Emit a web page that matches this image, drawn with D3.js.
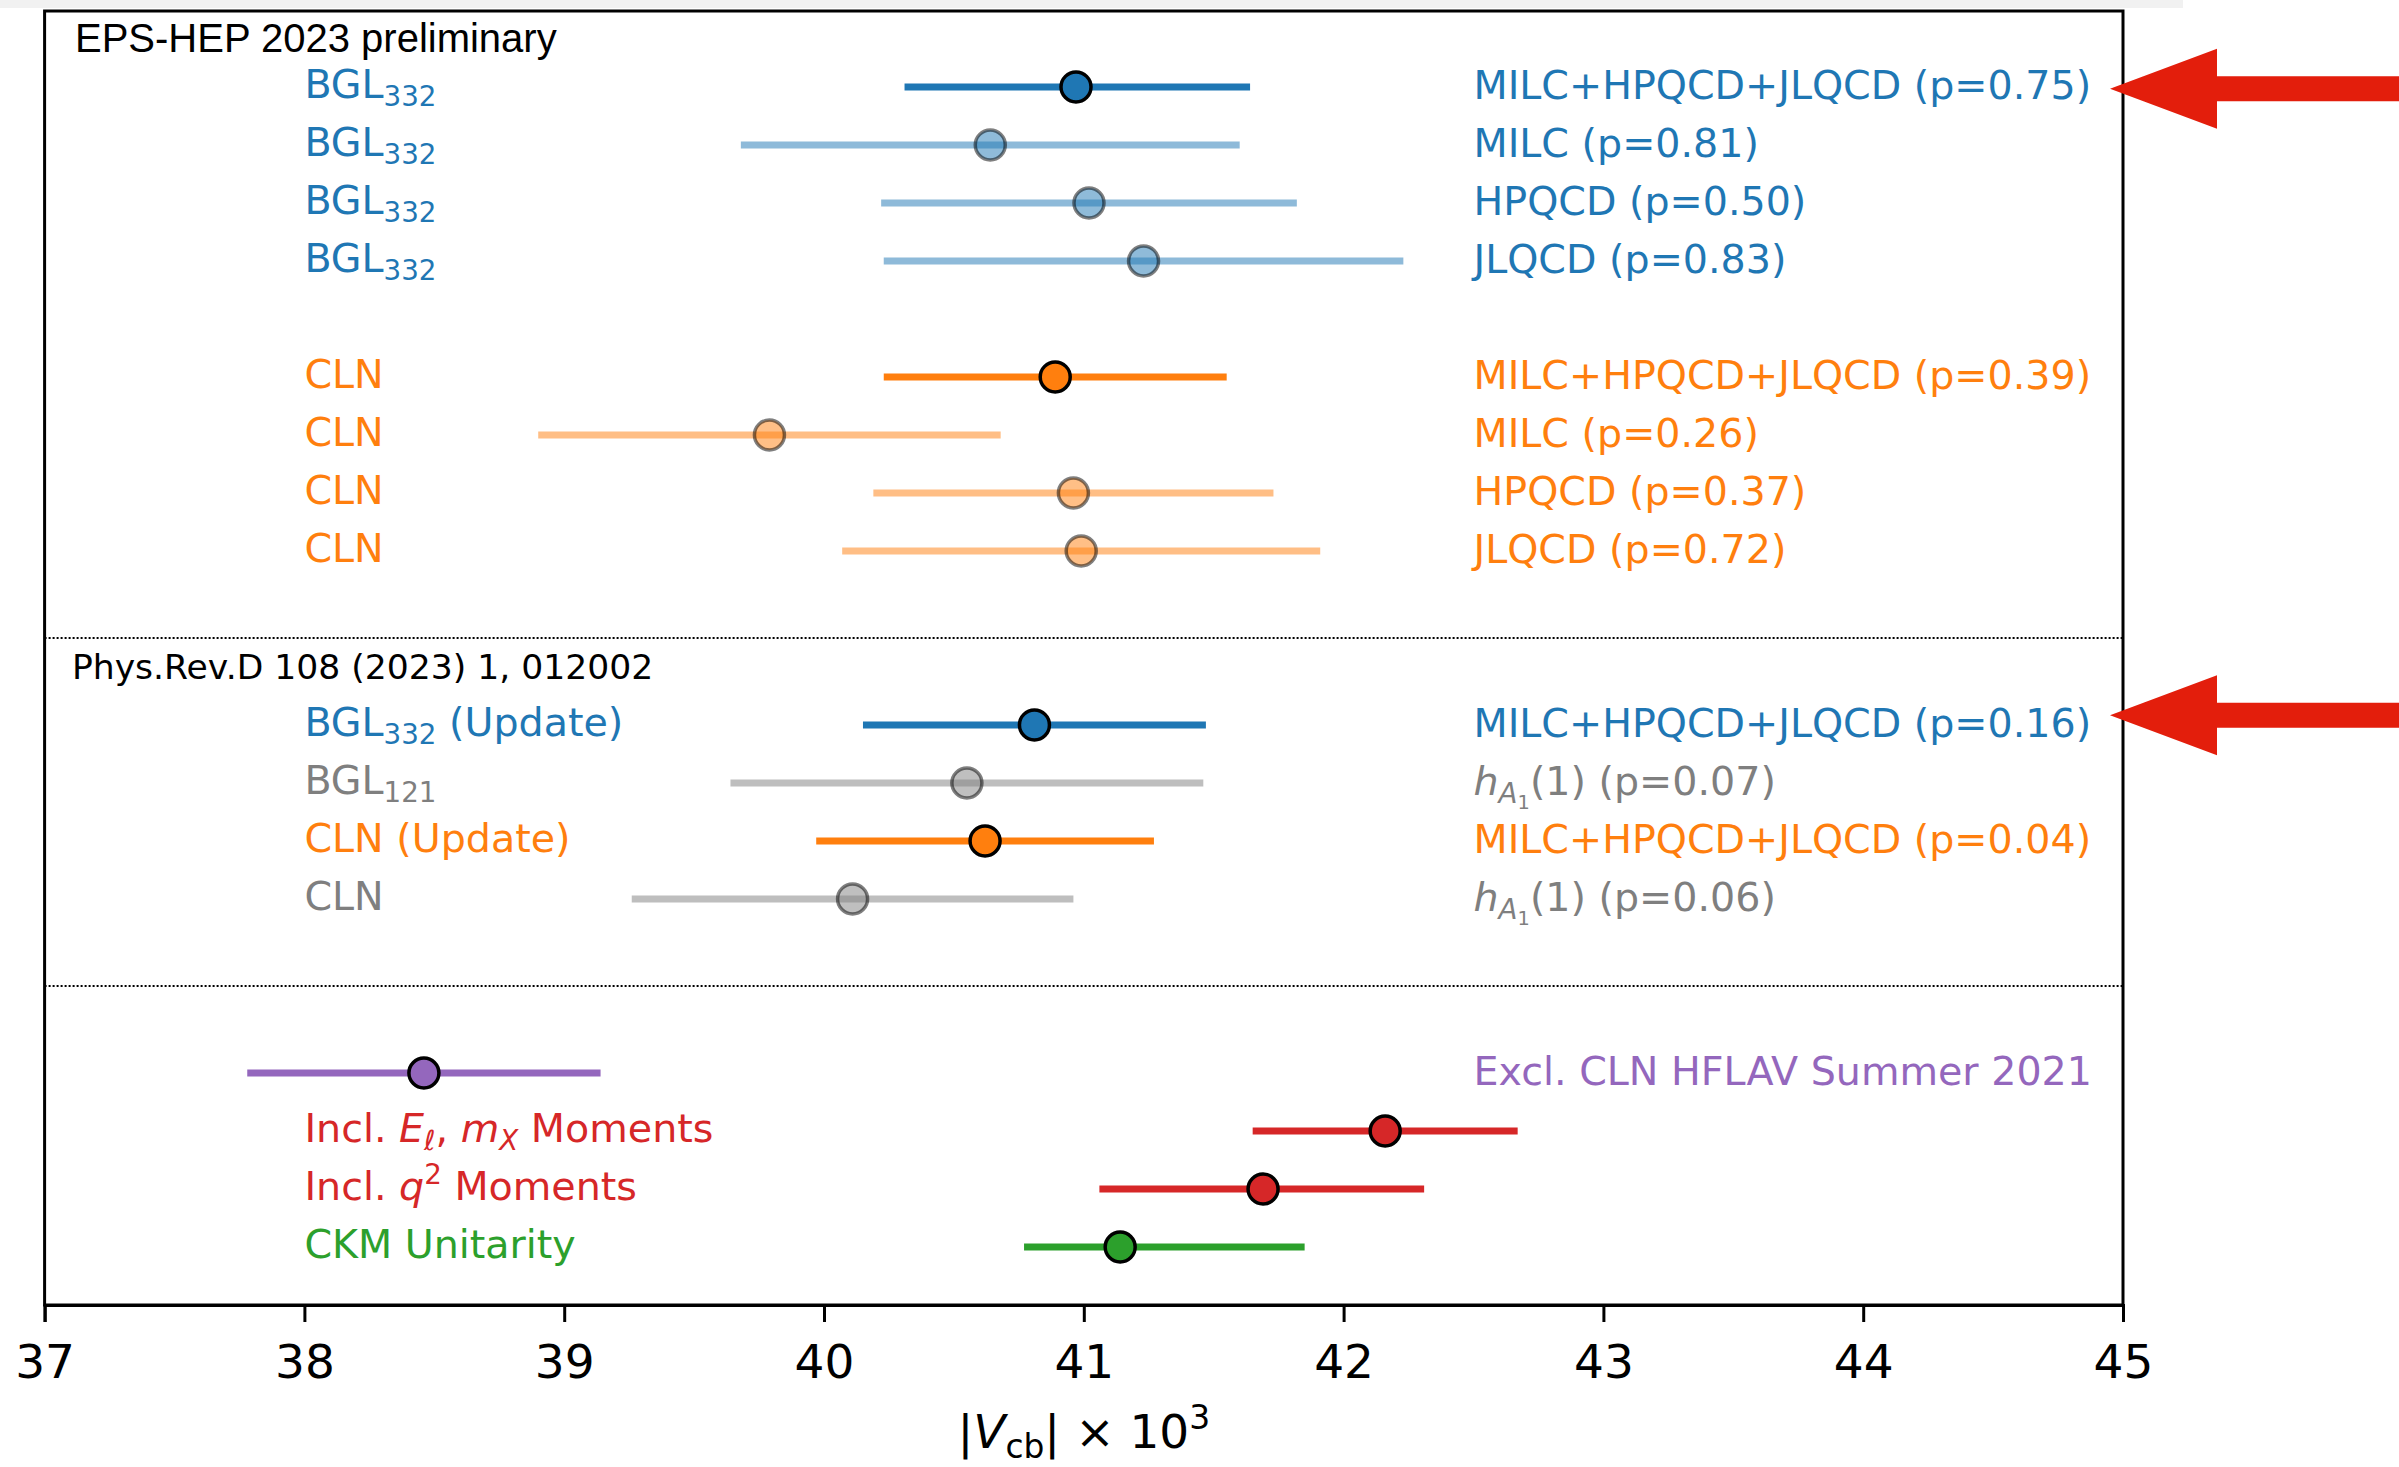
<!DOCTYPE html>
<html>
<head>
<meta charset="utf-8">
<script src="https://cdn.jsdelivr.net/npm/d3@7"></script>
<style>
  html, body { margin: 0; padding: 0; background: #fff; }
  text { font-family: "DejaVu Sans", sans-serif; }
</style>
</head>
<body>
<div id="chart"></div>
<script>
// rows from bottom (y = row index)
const rows      = [21, 20, 19, 18, 16, 15, 14, 13, 10, 9, 8, 7, 4, 3, 2, 1];
const central   = [40.97, 40.64, 41.02, 41.23, 40.89, 39.79, 40.96, 40.99, 40.81, 40.55, 40.62, 40.11, 38.46, 42.16, 41.69, 41.14];
const errLow    = [0.66, 0.96, 0.80, 1.00, 0.66, 0.89, 0.77, 0.92, 0.66, 0.91, 0.65, 0.85, 0.68, 0.51, 0.63, 0.37];
const errHigh   = [0.67, 0.96, 0.80, 1.00, 0.66, 0.89, 0.77, 0.92, 0.66, 0.91, 0.65, 0.85, 0.68, 0.51, 0.62, 0.71];
const colors    = ["#1f77b4", "#1f77b4", "#1f77b4", "#1f77b4", "#ff7f0e", "#ff7f0e", "#ff7f0e", "#ff7f0e",
                   "#1f77b4", "#7f7f7f", "#ff7f0e", "#7f7f7f", "#9467bd", "#d62728", "#d62728", "#2ca02c"];
const faded     = [false, true, true, true, false, true, true, true, false, true, false, true, false, false, false, false];
const leftLabels = ["BGL_{332}", "BGL_{332}", "BGL_{332}", "BGL_{332}", "CLN", "CLN", "CLN", "CLN",
                    "BGL_{332} (Update)", "BGL_{121}", "CLN (Update)", "CLN", "",
                    "Incl. *E*_{*ℓ*}, *m*_{*X*} Moments", "Incl. *q*^{2} Moments", "CKM Unitarity"];
const rightLabels = ["MILC+HPQCD+JLQCD (p=0.75)", "MILC (p=0.81)", "HPQCD (p=0.50)", "JLQCD (p=0.83)",
                     "MILC+HPQCD+JLQCD (p=0.39)", "MILC (p=0.26)", "HPQCD (p=0.37)", "JLQCD (p=0.72)",
                     "MILC+HPQCD+JLQCD (p=0.16)", "*h*_{*A*_{1}}(1) (p=0.07)", "MILC+HPQCD+JLQCD (p=0.04)", "*h*_{*A*_{1}}(1) (p=0.06)",
                     "Excl. CLN HFLAV Summer 2021", "", "", ""];
const sectionLabels = ["EPS-HEP 2023 preliminary", "Phys.Rev.D 108 (2023) 1, 012002"];
const sectionRows   = [21.84, 11.0];
const separators    = [11.5, 5.5];
const xTicks        = [37, 38, 39, 40, 41, 42, 43, 44, 45];
const arrowRows     = [20.97, 10.17];

const W = 2399, H = 1467;
const margin = { left: 44.6, right: W - 2123, top: 11, bottom: H - 1305 };

const svg = d3.select("#chart").append("svg")
  .attr("width", W).attr("height", H)
  .style("display", "block");

const x = d3.scaleLinear().domain([37, 45]).range([margin.left, W - margin.right]);
const y = d3.scaleLinear().domain([0, 22.31]).range([H - margin.bottom, margin.top]);

// light strip at very top (screenshot edge)
svg.append("rect").attr("x", 0).attr("y", 0).attr("width", 2183).attr("height", 8).attr("fill", "#f1f1f1");

// tiny markup: *italic*, _{sub}, ^{sup}
function parseRich(s) {
  const segs = [];
  let i = 0;
  function run(level, dy, italic, inGroup) {
    let buf = "";
    const flush = () => {
      if (buf) segs.push({ text: buf, scale: Math.pow(0.7, level), dy: dy, italic: italic });
      buf = "";
    };
    while (i < s.length) {
      const c = s[i];
      if (c === "}" && inGroup) { flush(); i++; return; }
      if ((c === "_" || c === "^") && s[i + 1] === "{") {
        flush(); i += 2;
        const sc = Math.pow(0.7, level);
        run(level + 1, dy + (c === "_" ? 0.21 : -0.4) * sc, italic, true);
        continue;
      }
      if (c === "*") { flush(); italic = !italic; i++; continue; }
      buf += c; i++;
    }
    flush();
  }
  run(0, 0, false, false);
  return segs;
}

// relative dy keeps everything in one text chunk (so text-anchor works)
function richText(g, str, px, py, fs, color, anchor) {
  const t = g.append("text")
    .attr("x", px).attr("y", py)
    .attr("font-size", fs)
    .attr("fill", color)
    .attr("text-anchor", anchor || "start");
  let cur = 0;
  parseRich(str).forEach(seg => {
    const off = seg.dy * fs;
    t.append("tspan")
      .attr("dy", off - cur)
      .attr("font-size", fs * seg.scale)
      .attr("font-style", seg.italic ? "italic" : null)
      .text(seg.text);
    cur = off;
  });
  return t;
}

// separators
svg.selectAll("line.sep").data(separators).enter().append("line")
  .attr("class", "sep")
  .attr("x1", x(37)).attr("x2", x(45))
  .attr("y1", d => y(d)).attr("y2", d => y(d))
  .attr("stroke", "#000").attr("stroke-width", 2)
  .attr("stroke-dasharray", "2,2");

// data
const data = rows.map((r, i) => ({
  row: r, v: central[i], lo: central[i] - errLow[i], hi: central[i] + errHigh[i],
  color: colors[i], faded: faded[i], left: leftLabels[i], right: rightLabels[i]
}));

const marks = svg.append("g");
data.forEach(d => {
  const op = d.faded ? 0.5 : 1;
  marks.append("line")
    .attr("x1", x(d.lo)).attr("x2", x(d.hi))
    .attr("y1", y(d.row)).attr("y2", y(d.row))
    .attr("stroke", d.color).attr("stroke-width", 7)
    .attr("opacity", op);
  marks.append("circle")
    .attr("cx", x(d.v)).attr("cy", y(d.row)).attr("r", 15)
    .attr("fill", d.color).attr("fill-opacity", op)
    .attr("stroke", "#000").attr("stroke-opacity", op)
    .attr("stroke-width", 3.5);
});

// labels
const labels = svg.append("g");
const fs = 39.6;
data.forEach(d => {
  if (d.left) richText(labels, d.left, x(38.0), y(d.row) + 11, fs, d.color);
  if (d.right) richText(labels, d.right, x(42.5), y(d.row) + 12, fs, d.color);
});

labels.append("text")
  .attr("x", x(37.117)).attr("y", y(sectionRows[0]) + 14)
  .attr("font-size", 40)
  .style("font-family", "'Liberation Sans', Arial, sans-serif")
  .attr("fill", "#000")
  .text(sectionLabels[0]);
labels.append("text")
  .attr("x", x(37.105)).attr("y", y(sectionRows[1]) + 12)
  .attr("font-size", 34.6)
  .attr("fill", "#000")
  .text(sectionLabels[1]);

// frame
svg.append("rect")
  .attr("x", x(37)).attr("y", y(22.31))
  .attr("width", x(45) - x(37)).attr("height", y(0) - y(22.31))
  .attr("fill", "none").attr("stroke", "#000").attr("stroke-width", 3);

// x axis
const xAxis = d3.axisBottom(x).tickValues(xTicks).tickFormat(d3.format("d")).tickSize(17).tickPadding(23);
const ax = svg.append("g")
  .attr("transform", "translate(0," + y(0) + ")")
  .call(xAxis);
ax.select(".domain").attr("stroke-width", 3);
ax.selectAll(".tick line").attr("stroke-width", 3);
ax.selectAll(".tick text")
  .attr("font-size", 47)
  .attr("font-family", "DejaVu Sans")
  .attr("fill", "#000");

richText(svg, "|*V*_{cb}| × 10^{3}", (x(37) + x(45)) / 2, 1448, 47, "#000", "middle");

// red arrows (annotation)
const arrow = d3.line();
arrowRows.forEach(r => {
  const ty = y(r), tx = 2110;
  svg.append("path")
    .attr("d", arrow([[tx, ty], [tx + 107, ty - 40], [tx + 107, ty - 12.5], [W, ty - 12.5],
                      [W, ty + 12.5], [tx + 107, ty + 12.5], [tx + 107, ty + 40]]) + "Z")
    .attr("fill", "#e31e0c");
});
</script>
</body>
</html>
